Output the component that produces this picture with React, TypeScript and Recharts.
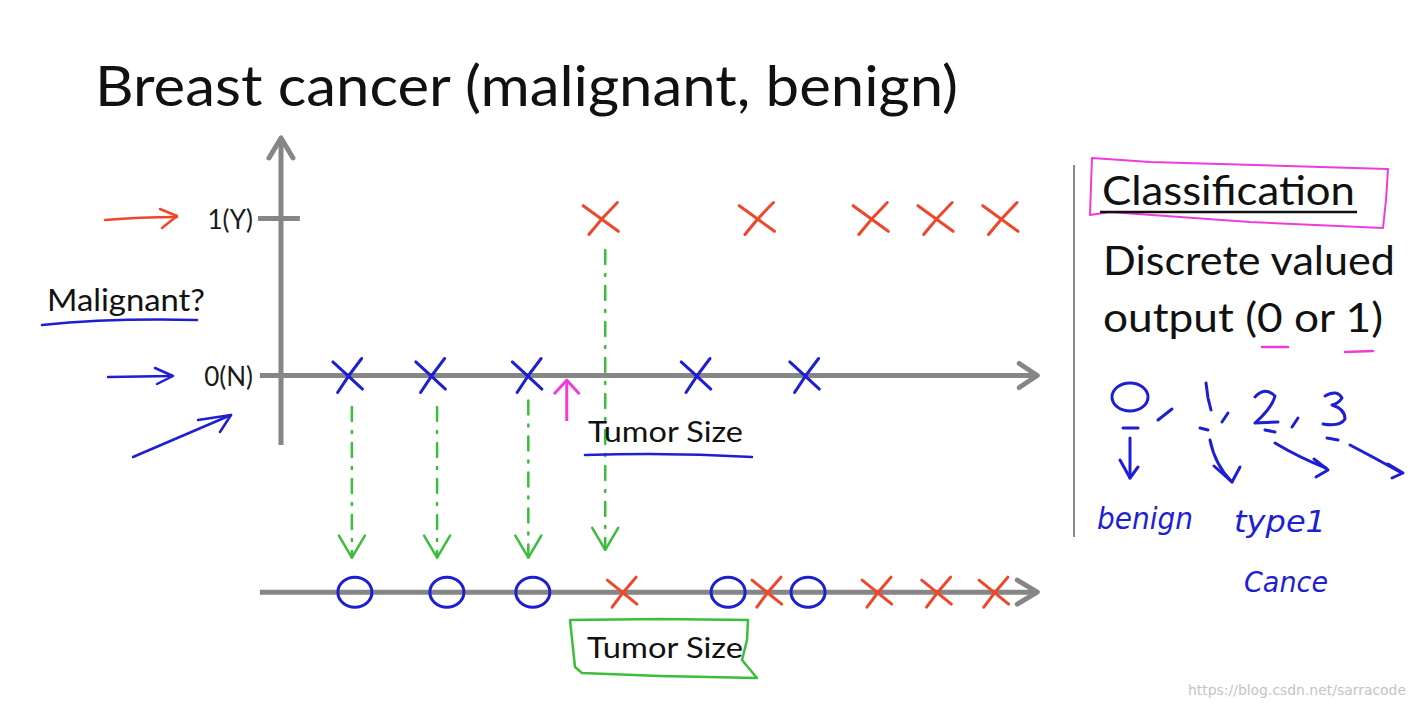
import React from "react";
import { ScatterChart, Scatter, XAxis, YAxis, ReferenceLine } from "recharts";

// ---- data (tumor size units along the axis, class on y) ----
const malignantSizes = [4.26, 6.33, 7.84, 8.7, 9.56];
const benignSizes = [0.9, 2.0, 3.28, 5.52, 6.96];
const projectedBenignSizes = [0.98, 2.2, 3.34, 5.93, 6.99];
const projectedMalignantSizes = [4.54, 6.46, 7.92, 8.71, 9.47];
const projectionLevel = -1.38;
const projectionArrowX = [0.94, 2.07, 3.28, 4.3];
const projectionArrowFrom = [-0.2, -0.2, -0.16, 0.8];
const projectionArrowTo = [-1.16, -1.16, -1.16, -1.11];
const yTicks = [0, 1];
const yTickLabels = ["0(N)", "1(Y)"];
const xDomain = [0, 10];
const yDomain = [-1.5, 1.5];

const malignantData = malignantSizes.map((x) => ({ x, y: 1 }));
const benignData = benignSizes.map((x) => ({ x, y: 0 }));
const projBenignData = projectedBenignSizes.map((x) => ({ x, y: projectionLevel }));
const projMalignantData = projectedMalignantSizes.map((x) => ({ x, y: projectionLevel }));

const RED = "#f0462a";
const BLUE = "#1e1ed2";
const GREEN = "#3cbe3c";
const PINK = "#ee3cdc";
const GRAY = "#868686";
const FONT = "Lato, 'Open Sans', sans-serif";

const arrowShape =
  (color: string, width: number, headLen: number, headHalf: number, dash?: string) =>
  (props: any) => {
    const { x1, y1, x2, y2 } = props;
    const ang = Math.atan2(y2 - y1, x2 - x1);
    const c = Math.cos(ang);
    const s = Math.sin(ang);
    const bx = x2 - headLen * c;
    const by = y2 - headLen * s;
    const p1 = `${bx - headHalf * s},${by + headHalf * c}`;
    const p2 = `${bx + headHalf * s},${by - headHalf * c}`;
    return (
      <g>
        <line
          x1={x1}
          y1={y1}
          x2={x2}
          y2={y2}
          stroke={color}
          strokeWidth={width}
          strokeDasharray={dash}
          strokeLinecap={dash ? "round" : "butt"}
        />
        <polyline
          points={`${p1} ${x2},${y2} ${p2}`}
          fill="none"
          stroke={color}
          strokeWidth={width}
          strokeLinecap="round"
          strokeLinejoin="round"
        />
      </g>
    );
  };

const plainLine = (color: string, width: number) => (props: any) => (
  <line x1={props.x1} y1={props.y1} x2={props.x2} y2={props.y2} stroke={color} strokeWidth={width} />
);

const crossShape = (color: string, w: number, h: number) => (props: any) => {
  const { cx, cy } = props;
  if (cx == null || cy == null) return <g />;
  return (
    <g fill="none" stroke={color} strokeWidth={3} strokeLinecap="round">
      <path d={`M${cx - w} ${cy - h * 0.8} Q${cx} ${cy + 1} ${cx + w * 0.85} ${cy + h * 0.8}`} />
      <path d={`M${cx + w * 0.8} ${cy - h} Q${cx} ${cy - 1} ${cx - w * 0.7} ${cy + h}`} />
    </g>
  );
};

const circleShape = (props: any) => {
  const { cx, cy } = props;
  if (cx == null || cy == null) return <g />;
  return <ellipse cx={cx} cy={cy} rx={17} ry={15} fill="none" stroke={BLUE} strokeWidth={3} />;
};

const YTick = (props: any) => {
  const { x, y, payload } = props;
  const idx = yTicks.indexOf(payload.value);
  return (
    <text x={x} y={y + 10} textAnchor="end" fontSize={26} fontFamily={FONT} fill="#1a1a1a">
      {yTickLabels[idx]}
    </text>
  );
};

const Overlay = () => (
  <svg
    width={1419}
    height={712}
    style={{ position: "absolute", left: 0, top: 0, pointerEvents: "none" }}
  >
    {/* title */}
    <text x={95} y={106} fontSize={56} fontFamily={FONT} fill="#111" textLength={863} lengthAdjust="spacingAndGlyphs">
      Breast cancer (malignant, benign)
    </text>

    {/* left annotations */}
    <g fill="none" strokeWidth={2.5} strokeLinecap="round" strokeLinejoin="round">
      <path d="M105 220 Q140 217 177 217" stroke={RED} />
      <path d="M160 209 L177 216 L162 228" stroke={RED} />
      <path d="M108 377 L172 376" stroke={BLUE} />
      <path d="M155 368 L173 376 L157 384" stroke={BLUE} />
      <path d="M42 325 Q110 318 197 320" stroke={BLUE} />
      <path d="M133 457 L231 415" stroke={BLUE} />
      <path d="M198 420 L231 415 L220 432" stroke={BLUE} />
    </g>
    <text x={47} y={311} fontSize={30} fontFamily={FONT} fill="#111" textLength={158} lengthAdjust="spacingAndGlyphs">
      Malignant?
    </text>

    {/* tumor size labels */}
    <text x={588} y={442} fontSize={29} fontFamily={FONT} fill="#111" textLength={155} lengthAdjust="spacingAndGlyphs">
      Tumor Size
    </text>
    <path d="M585 455 Q670 452 752 457" fill="none" stroke={BLUE} strokeWidth={2.5} strokeLinecap="round" />
    <text x={587} y={658} fontSize={29} fontFamily={FONT} fill="#111" textLength={156} lengthAdjust="spacingAndGlyphs">
      Tumor Size
    </text>
    <path
      d="M570 620 L660 619 L748 620 L747 640 L742 660 L757 678 L660 676 L582 673 L575 667 Z"
      fill="none"
      stroke={GREEN}
      strokeWidth={2.5}
      strokeLinejoin="round"
    />

    {/* right panel */}
    <line x1={1074} y1={165} x2={1074} y2={537} stroke="#8a8a8a" strokeWidth={2} />
    <path
      d="M1092 158 L1150 162 L1388 169 L1386 200 L1383 228 L1250 222 L1110 212 L1090 215 L1091 185 Z"
      fill="none"
      stroke={PINK}
      strokeWidth={2}
      strokeLinejoin="round"
    />
    <text x={1102} y={205} fontSize={41} fontFamily={FONT} fill="#111" textLength={253} lengthAdjust="spacingAndGlyphs">
      Classification
    </text>
    <line x1={1100} y1={212} x2={1357} y2={212} stroke="#111" strokeWidth={2.5} />
    <text x={1103} y={275} fontSize={41} fontFamily={FONT} fill="#111" textLength={292} lengthAdjust="spacingAndGlyphs">
      Discrete valued
    </text>
    <text x={1103} y={332} fontSize={41} fontFamily={FONT} fill="#111" textLength={280} lengthAdjust="spacingAndGlyphs">
      output (0 or 1)
    </text>
    <g fill="none" stroke={PINK} strokeWidth={2.5} strokeLinecap="round">
      <path d="M1262 347 L1288 347" />
      <path d="M1345 352 L1373 351" />
    </g>

    {/* handwritten 0, 1, 2, 3 */}
    <g fill="none" stroke={BLUE} strokeWidth={3} strokeLinecap="round" strokeLinejoin="round">
      <ellipse cx={1130} cy={397} rx={18} ry={14} />
      <path d="M1123 428 L1138 428" />
      <path d="M1130 438 L1130 478" />
      <path d="M1120 460 L1130 478 L1138 467" />
      <path d="M1158 420 L1172 409" />
      <path d="M1206 383 L1208 398 L1211 410" />
      <path d="M1222 422 L1228 413" />
      <path d="M1200 428 L1208 430" />
      <path d="M1210 440 Q1215 465 1232 482" />
      <path d="M1214 466 L1232 482 L1240 467" />
      <path d="M1255 397 Q1265 386 1275 396 Q1272 408 1255 423 L1278 422" />
      <path d="M1265 430 L1275 432" />
      <path d="M1292 427 L1298 418" />
      <path d="M1275 443 Q1300 458 1326 468" />
      <path d="M1314 459 L1328 470 L1316 477" />
      <path d="M1325 396 Q1337 389 1342 398 Q1338 404 1332 405 Q1345 409 1345 419 Q1340 427 1323 424" />
      <path d="M1327 438 L1338 440" />
      <path d="M1350 445 Q1375 458 1400 472" />
      <path d="M1388 464 L1403 473 L1392 478" />
    </g>
    <g fill={BLUE} fontFamily="'DejaVu Sans', sans-serif" fontStyle="italic">
      <text x={1097} y={529} fontSize={30} textLength={96} lengthAdjust="spacingAndGlyphs">
        benign
      </text>
      <text x={1234} y={532} fontSize={30} textLength={92} lengthAdjust="spacingAndGlyphs">
        type1
      </text>
      <text x={1244} y={592} fontSize={28} textLength={84} lengthAdjust="spacingAndGlyphs">
        Cance
      </text>
    </g>

    {/* watermark */}
    <text x={1188} y={695} fontSize={14} fontFamily="'DejaVu Sans', sans-serif" fill="#c4c4c4" textLength={218} lengthAdjust="spacingAndGlyphs">
      https://blog.csdn.net/sarracode
    </text>
  </svg>
);

export default function App() {
  return (
    <div
      style={{
        position: "absolute",
        left: 0,
        top: 0,
        width: 1419,
        height: 712,
        background: "#ffffff",
        overflow: "hidden",
      }}
    >
      <ScatterChart width={1419} height={712} margin={{ top: 140, right: 384, bottom: 101, left: 253 }}>
        <XAxis type="number" dataKey="x" domain={xDomain} hide allowDataOverflow />
        <YAxis
          type="number"
          dataKey="y"
          domain={yDomain}
          ticks={yTicks}
          width={28}
          axisLine={false}
          tickLine={false}
          tickSize={0}
          tickMargin={28}
          tick={<YTick />}
          allowDataOverflow
        />
        {/* axes */}
        <ReferenceLine
          segment={[{ x: 0, y: -0.443 }, { x: 0, y: 1.513 }]}
          ifOverflow="visible"
          shape={arrowShape(GRAY, 5, 20, 12)}
        />
        <ReferenceLine
          segment={[{ x: -0.305, y: 1 }, { x: 0.25, y: 1 }]}
          ifOverflow="visible"
          shape={plainLine(GRAY, 5)}
        />
        <ReferenceLine
          segment={[{ x: -0.28, y: 0 }, { x: 10.03, y: 0 }]}
          ifOverflow="visible"
          shape={arrowShape(GRAY, 5, 18, 12)}
        />
        <ReferenceLine
          segment={[{ x: -0.28, y: projectionLevel }, { x: 10.03, y: projectionLevel }]}
          ifOverflow="visible"
          shape={arrowShape(GRAY, 5, 20, 12)}
        />
        {/* projection arrows */}
        {projectionArrowX.map((x, i) => (
          <ReferenceLine
            key={`proj-${i}`}
            segment={[{ x, y: projectionArrowFrom[i] }, { x, y: projectionArrowTo[i] }]}
            ifOverflow="visible"
            shape={arrowShape(GREEN, 2.5, 22, 13, "14 10 2 10")}
          />
        ))}
        {/* pink pointer */}
        <ReferenceLine
          segment={[{ x: 3.79, y: -0.29 }, { x: 3.79, y: -0.03 }]}
          ifOverflow="visible"
          shape={arrowShape(PINK, 3, 13, 12)}
        />
        <Scatter data={malignantData} isAnimationActive={false} shape={crossShape(RED, 19, 16)} />
        <Scatter data={benignData} isAnimationActive={false} shape={crossShape(BLUE, 16, 17)} />
        <Scatter data={projBenignData} isAnimationActive={false} shape={circleShape} />
        <Scatter data={projMalignantData} isAnimationActive={false} shape={crossShape(RED, 16, 15)} />
      </ScatterChart>
      <Overlay />
    </div>
  );
}
